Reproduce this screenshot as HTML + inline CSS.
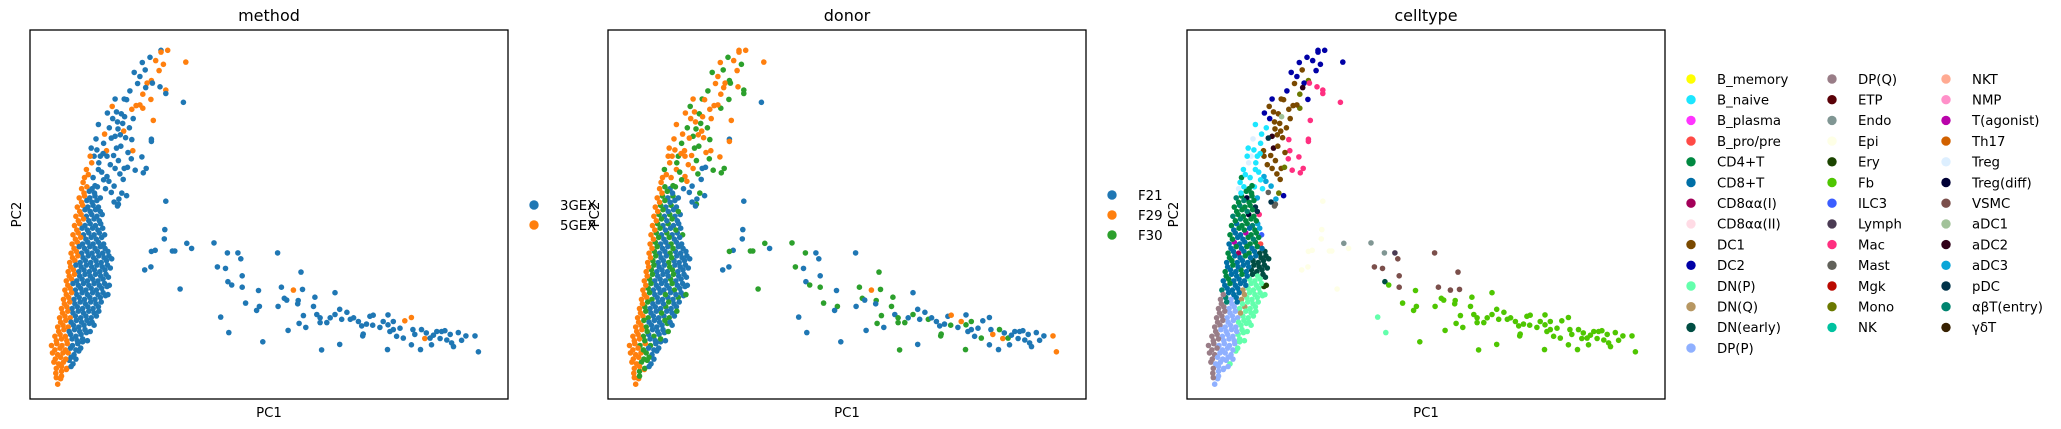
<!DOCTYPE html>
<html><head><meta charset="utf-8">
<style>
html,body{margin:0;padding:0;background:#fff;}
svg{display:block;font-family:"DejaVu Sans","Liberation Sans",sans-serif;}
</style></head>
<body>
<svg id="fig" width="2061" height="429" viewBox="0 0 2061 429" xmlns="http://www.w3.org/2000/svg"></svg>
<script>
// ---- data ----
const methodCats = ["3GEX","5GEX"];
const methodColors = ["#1f77b4","#ff7f0e"];
const donorCats = ["F21","F29","F30"];
const donorColors = ["#1f77b4","#ff7f0e","#2ca02c"];
const celltypeCats = ["B_memory","B_naive","B_plasma","B_pro/pre","CD4+T","CD8+T","CD8αα(I)","CD8αα(II)","DC1","DC2","DN(P)","DN(Q)","DN(early)","DP(P)","DP(Q)","ETP","Endo","Epi","Ery","Fb","ILC3","Lymph","Mac","Mast","Mgk","Mono","NK","NKT","NMP","T(agonist)","Th17","Treg","Treg(diff)","VSMC","aDC1","aDC2","aDC3","pDC","αβT(entry)","γδT"];
const celltypeColors = ["#FFFF00","#1CE6FF","#FF34FF","#FF4A46","#008941","#006FA6","#A30059","#FFDBE5","#7A4900","#0000A6","#63FFAC","#B79762","#004D43","#8FB0FF","#997D87","#5A0007","#809693","#FEFFE6","#1B4400","#4FC601","#3B5DFF","#4A3B53","#FF2F80","#61615A","#BA0900","#6B7900","#00C2A0","#FFAA92","#FF90C9","#B903AA","#D16100","#DDEFFF","#000035","#7B4F4B","#A1C299","#300018","#0AA6D8","#013349","#00846F","#372101"];
// cells: [PC1, PC2, methodIdx, donorIdx, celltypeIdx] (PC units 0-100)
const coreCells = [
[5.8,4,1,1,13],[6.4,5.5,1,1,13],[5.4,7,1,1,14],[6.6,7.5,1,2,13],[7.6,8,1,1,13],
[5,10,1,1,14],[6,9.5,1,1,13],[7,10,1,2,13],[8.2,10.5,0,2,13],[9,9.5,0,0,10],
[4.7,12.5,1,1,14],[5.8,12,1,1,14],[6.9,12.5,1,1,13],[8,12.5,1,2,13],[9.2,12,0,0,13],[10.2,13,0,0,10],
[4.5,14.5,1,1,14],[5.6,15,1,1,14],[6.7,14.5,1,2,13],[7.8,15,1,1,13],[8.9,14.5,0,2,13],[10,15,0,0,13],[11,15.5,0,0,10],
[5.2,17,1,1,14],[6.3,17.5,1,1,14],[7.4,17,1,2,13],[8.5,17.5,0,0,13],[9.6,17,0,2,13],[10.7,17.5,0,0,10],[11.8,18,0,0,10],
[5.8,19.5,1,1,14],[6.9,20,1,1,14],[8,19.5,1,2,13],[9.1,20,0,0,13],[10.2,19.5,0,0,13],[11.3,20,0,0,10],[12.4,20.5,0,2,10],[13.4,20,0,0,10],
[6.2,22,1,1,14],[7.3,22.5,1,1,14],[8.4,22,1,2,13],[9.5,22.5,0,0,13],[10.6,22,0,0,13],[11.7,22.5,0,0,10],[12.8,22,0,2,10],[13.9,22.5,0,0,10],
[6.6,24.5,1,1,14],[7.7,25,1,2,14],[8.8,24.5,0,0,13],[9.9,25,0,0,13],[11,24.5,0,0,10],[12.1,25,0,2,11],[13.2,24.5,0,0,10],[14.3,25,0,0,10],
[7,27,1,1,14],[8.1,27.5,1,1,38],[9.2,27,0,2,13],[10.3,27.5,0,0,5],[11.4,27,0,0,11],[12.5,27.5,0,0,10],[13.6,27,0,0,10],[14.7,27.5,0,2,10],[15.8,28,0,0,10],
[7.3,29.5,1,1,38],[8.4,30,1,2,5],[9.5,29.5,0,0,5],[10.6,30,0,0,5],[11.7,29.5,0,0,11],[12.8,30,0,0,10],[13.9,29.5,0,2,10],[15,30,0,0,10],[16.1,30.5,0,0,18],
[7.6,32,1,1,5],[8.7,32.5,1,2,4],[9.8,32,0,0,5],[10.9,32.5,0,0,5],[12,32,0,0,5],[13.1,32.5,0,2,10],[14.2,32,0,0,10],[15.3,32.5,0,0,10],[16.4,33,0,0,12],
[8,34.5,1,1,4],[9.1,35,1,2,5],[10.2,34.5,0,0,5],[11.3,35,0,0,4],[12.4,34.5,0,0,5],[13.5,35,0,2,12],[14.6,34.5,0,0,12],[15.7,35,0,0,12],[16.8,35.5,0,0,12],
[8.3,37,1,1,5],[9.4,37.5,1,2,4],[10.5,37,0,0,5],[11.6,37.5,0,0,5],[12.7,37,0,2,5],[13.8,37.5,0,0,12],[14.9,37,0,0,12],[16,37.5,0,0,12],[17.1,38,0,0,12],
[8.6,39.5,1,1,4],[9.7,40,1,2,5],[10.8,39.5,0,0,6],[11.9,40,0,0,5],[13,39.5,0,2,4],[14.1,40,0,0,5],[15.2,39.5,0,0,12],[16.3,40,0,0,12],
[8.8,42,1,1,5],[9.9,42.5,1,2,29],[11,42,0,0,5],[12.1,42.5,0,0,5],[13.2,42,0,2,4],[14.3,42.5,0,0,4],[15.4,42,0,0,3],
[9,44.5,1,1,4],[10.1,45,1,2,5],[11.2,44.5,0,0,5],[12.3,45,0,2,29],[13.4,44.5,0,0,4],[14.5,45,0,0,4],[15.6,44.5,0,2,20],
[9.3,47,1,1,4],[10.4,47.5,1,2,5],[11.5,47,0,0,4],[12.6,47.5,0,2,4],[13.7,47,0,0,38],[14.8,47.5,0,0,36],
[9.6,49.5,1,1,38],[10.7,50,1,2,4],[11.8,49.5,0,0,4],[12.9,50,0,2,32],[14,49.5,0,0,4],[15.1,50,0,0,22],
[9.9,52,1,1,4],[11,52.5,1,2,38],[12.1,52,0,0,4],[13.2,52.5,0,2,4],[14.3,52,0,0,37],
[10.3,54.5,1,1,38],[11.4,55,1,2,4],[12.5,54.5,0,0,32],[13.6,55,0,2,4],[14.7,54.5,0,0,36],
[10.8,57,1,1,31],[11.9,57.5,1,2,1],[13,57,0,0,4],[14.1,57.5,0,2,1]
];
const coreFillCells = [
[5.5,5.8,1,1,14],[6.6,6.2,1,2,13],
[5.5,8.3,1,1,14],[6.6,8.8,1,1,13],[7.7,8.3,1,2,13],[8.6,8.8,0,0,13],
[5.3,10.8,1,1,14],[6.4,11.3,1,1,13],[7.5,10.8,1,2,13],[8.6,11.3,0,2,13],[9.6,10.8,0,0,13],
[5.2,13.3,1,1,14],[6.3,13.8,1,1,14],[7.4,13.3,1,2,13],[8.5,13.8,0,0,13],[9.6,13.3,0,0,13],[10.6,13.8,0,0,10],
[5.5,15.8,1,1,14],[6.6,16.3,1,1,14],[7.7,15.8,1,2,13],[8.8,16.3,0,0,13],[9.9,15.8,0,0,13],[11,16.3,0,2,10],[12,15.8,0,0,10],
[6,18.3,1,1,14],[7.1,18.8,1,1,13],[8.2,18.3,0,2,13],[9.3,18.8,0,0,13],[10.4,18.3,0,0,13],[11.5,18.8,0,0,10],[12.6,18.3,0,2,10],
[6.4,20.8,1,1,14],[7.5,21.3,1,2,14],[8.6,20.8,0,0,13],[9.7,21.3,0,0,13],[10.8,20.8,0,0,10],[11.9,21.3,0,2,10],[13,20.8,0,0,10],
[6.8,23.3,1,1,14],[7.9,23.8,1,2,14],[9,23.3,0,0,13],[10.1,23.8,0,0,13],[11.2,23.3,0,2,11],[12.3,23.8,0,0,10],[13.4,23.3,0,0,10],[14.4,23.8,0,2,10],
[7.2,25.8,1,1,14],[8.3,26.3,1,2,38],[9.4,25.8,0,0,13],[10.5,26.3,0,0,5],[11.6,25.8,0,0,10],[12.7,26.3,0,2,10],[13.8,25.8,0,0,10],[14.9,26.3,0,0,10],
[7.6,28.3,1,1,14],[8.7,28.8,1,2,5],[9.8,28.3,0,0,5],[10.9,28.8,0,0,5],[12,28.3,0,2,11],[13.1,28.8,0,0,10],[14.2,28.3,0,0,10],[15.3,28.8,0,0,10],[16.3,28.3,0,2,10],
[7.9,30.8,1,1,5],[9,31.3,0,2,4],[10.1,30.8,0,0,5],[11.2,31.3,0,0,5],[12.3,30.8,0,0,5],[13.4,31.3,0,2,10],[14.5,30.8,0,0,10],[15.6,31.3,0,0,10],[16.6,30.8,0,0,18],
[8.2,33.3,1,1,4],[9.3,33.8,1,2,5],[10.4,33.3,0,0,5],[11.5,33.8,0,0,4],[12.6,33.3,0,0,5],[13.7,33.8,0,2,12],[14.8,33.3,0,0,10],[15.9,33.8,0,0,12],
[8.5,35.8,1,1,5],[9.6,36.3,0,2,4],[10.7,35.8,0,0,5],[11.8,36.3,0,0,5],[12.9,35.8,0,2,5],[14,36.3,0,0,12],[15.1,35.8,0,0,12],[16.2,36.3,0,0,12],
[8.9,38.3,1,1,4],[10,38.8,1,2,5],[11.1,38.3,0,0,5],[12.2,38.8,0,0,4],[13.3,38.3,0,2,5],[14.4,38.8,0,0,5],[15.5,38.3,0,0,12],[16.5,38.8,0,0,12],
[9.2,40.8,1,1,5],[10.3,41.3,0,2,4],[11.4,40.8,0,0,5],[12.5,41.3,0,0,4],[13.6,40.8,0,2,5],[14.7,41.3,0,0,4],[15.7,40.8,0,0,5],
[9.5,43.3,1,1,4],[10.6,43.8,1,2,5],[11.7,43.3,0,0,5],[12.8,43.8,0,2,4],[13.9,43.3,0,0,38],[15,43.8,0,0,4],
[9.8,45.8,1,1,5],[10.9,46.3,0,2,4],[12,45.8,0,0,4],[13.1,46.3,0,0,5],[14.2,45.8,0,2,4],[15.2,46.3,0,0,36],
[10.1,48.3,1,1,4],[11.2,48.8,1,2,38],[12.3,48.3,0,0,4],[13.4,48.8,0,2,4],[14.5,48.3,0,0,4],
[10.4,50.8,1,1,4],[11.5,51.3,0,2,4],[12.6,50.8,0,0,38],[13.7,51.3,0,0,4],[14.7,50.8,0,2,37],
[10.8,53.3,1,1,4],[11.9,53.8,0,2,38],[13,53.3,0,0,4],[14,53.8,0,0,4],
[11.3,55.8,1,1,1],[12.4,56.3,0,2,4],[13.5,55.8,0,0,4]
];
const armCells = [
[27.4,94.5,0,1,9],[25.1,92.6,0,2,9],[23.5,91.2,0,1,9],[26.3,91.7,1,1,9],[27.9,90.7,1,2,9],[27.4,94,1,1,9],[28.8,94.5,1,1,9],[32.6,91.3,1,1,9],
[24.1,89.2,0,2,8],[27,89,1,1,9],[23,87.4,0,1,9],[25.4,86.3,1,2,25],[24.5,85.6,1,1,9],[25.6,85.6,0,2,22],[24.2,84.4,0,1,35],[27.2,84.6,0,1,22],
[28.4,83.7,1,2,22],[23.6,82.6,1,1,25],[25.3,81.2,1,2,9],[32.1,80.4,0,0,22],[17.8,81.3,0,1,9],[19.7,81.3,0,2,8],[20.2,81.1,0,1,8],[21.3,78.5,1,1,8],
[23.6,78.8,1,2,25],[23,79.7,1,1,8],[25.8,75.5,1,1,22],[18.1,77.8,0,1,8],[19.1,77.3,0,2,8],[19.8,76.5,0,1,34],[19.4,74.7,0,2,8],[18.3,75.1,0,1,8],
[17.3,76,0,1,9],[14.3,74.4,0,1,1],[18.4,73.2,0,2,8],[19.6,72.6,1,1,8],[18.9,71.6,0,1,8],[17.8,71.2,0,2,35],[17,70.7,0,1,37],[21.3,70.3,0,2,22],
[21.5,67.3,1,1,22],[25.4,70.4,0,0,22],[21.2,65.1,0,2,22],[23.4,65.6,0,1,22],[24.3,62.5,0,2,22],[19.7,62.5,0,0,8],[20.4,62.8,0,0,25],[18.5,64.6,0,2,8],
[17.8,62.5,0,1,8],[16.1,60.3,0,1,36],[15.4,59.4,0,2,1],[14,67.5,0,1,1],[12.8,68,0,1,1],[15.4,69.3,0,2,1],[16,67.3,1,1,8],[18.1,68,0,2,35],
[16.1,65.8,0,1,8],[13.4,65.8,0,1,31],[14.4,64,0,2,1],[14.3,62.2,0,1,1],[12.6,65.8,1,1,1],[12.9,64,1,1,31],[11.8,62.2,1,2,1],[11.4,60,1,1,4],
[11.1,58.7,1,1,1],[14.7,65.8,0,2,1],[17.6,57.7,0,0,36],[17,56,0,0,23],[18.6,54.2,0,0,36],[18.5,52.8,0,2,23],[17.6,53.4,0,0,37],[20.2,55.1,0,0,9],
[19.2,55.8,0,2,25],[18.3,52.3,0,0,23],[28.4,82.8,0,2,22],[25.4,69.8,0,1,22],[23.7,61.3,0,2,22],
[13.2,60,0,1,1],[15,61.5,0,2,1],[16.8,63.5,0,1,8],[13.8,70.5,0,1,31],[15.6,71.8,1,1,1],[16.6,73.5,0,2,1],[17.5,66,0,1,8],[19,68.5,0,2,8],
[20,70.8,0,1,8],[20.8,73.5,0,2,8],[21.6,76,0,1,8],[22.2,79.5,1,1,8],[20.9,83.5,0,2,9],[22.5,85.5,0,1,8],[21.8,88.5,0,2,9],[16.2,77.5,0,1,9],
[17.2,79.3,1,2,8],[15.3,66.5,0,1,1],[12.2,60.8,1,1,1],[13.6,57.8,0,2,4],[15.8,57,0,0,1],[16.5,59,0,1,36],[19.5,59.5,0,0,8],[22,62,0,2,22],
[20.5,66.8,0,1,8],[18.8,61,0,2,8]
];
const tailCells = [
[28.4,53.6,0,0,17],[28.2,45.9,0,0,17],[28.1,43.4,0,0,17],[26.2,40.3,0,0,17],[25.4,40,0,2,17],[24,35,0,0,17],[25.3,35.8,0,0,17],[29.8,40.1,0,2,17],
[30.3,40.1,0,2,17],[32.8,42.2,0,2,16],[33.8,40.8,0,0,17],[31.4,29.8,0,2,17],[38.5,42.3,0,2,16],[41.3,39.6,0,2,16],[43.5,39.6,0,0,21],[44.1,38,0,0,33],
[39.2,35.8,0,2,33],[40.9,35.4,0,0,33],[44.4,33.4,0,0,33],[41.4,31.8,0,0,12],[42.2,30.9,0,2,19],[44.4,30.3,0,2,33],[45.1,26,0,2,19],[39.9,22.2,0,0,10],
[41.6,18,0,0,10],[47.8,29.4,0,0,19],[48,25.1,0,2,19],[47.4,24,0,0,19],[48.7,15.5,0,0,19],[51.8,39.6,0,0,33],[52.6,30.3,0,2,33],[55.1,29.5,1,1,33],
[57,29.7,0,2,33],[56.7,34.4,0,2,33],[53.2,27.3,0,2,19],[53.7,26.8,0,0,19],[51.9,25.1,0,0,19],[54,18.6,0,0,19],[56.1,26.7,0,2,19],[56,25.8,0,0,19],
[56.3,20.5,0,2,19],[57.2,22.6,0,2,19],[57.7,19.4,0,0,19],[59.6,27.6,0,2,19],[59.3,25.1,0,2,19],[60,22.9,0,0,19],[60.7,22,0,2,19],[61,13.3,0,2,19],
[62.1,20.7,0,2,19],[62.8,22,0,0,19],[63.8,28.8,0,0,19],[63.8,22.9,0,2,19],[64.8,24.3,0,0,19],[65.2,21.6,0,0,19],[64.8,14.8,0,0,19],[66.3,23.5,0,0,19],
[67,21.6,0,2,19],[68.7,21,0,0,19],[69.4,19.8,0,0,19],[69.6,17.1,0,2,19],[70.4,20.3,0,0,19],[71.1,22.4,0,0,19],[71.8,22.7,0,1,19],[71.7,20,0,2,19],
[73.2,19.4,0,0,19],[73.9,21,0,1,19],[74.9,22.8,0,0,19],[74.9,20.1,0,2,19],[75.3,18.3,0,0,19],[74.8,13.4,0,2,19],[76,18.8,0,0,19],[76.7,17,0,0,19],
[77.4,19.2,0,0,19],[78.1,16.5,0,2,19],[78.4,21.2,1,0,19],[79.8,22.1,1,0,19],[79.8,14.7,0,0,19],[80.1,18.8,0,0,19],[80.5,17.5,0,1,19],[81.7,13.4,0,0,19],
[81.9,18.8,0,2,19],[82.6,16.4,1,1,19],[82.9,17.9,0,0,19],[83.7,16.5,0,2,19],[84,14.7,0,0,19],[84.4,17.3,0,0,19],[85.1,18.3,0,0,19],[85.8,16.4,0,0,19],
[86.1,18.3,0,0,19],[86.8,18.5,0,0,19],[87.2,16,0,0,19],[87.9,17.5,0,0,19],[88.2,15.2,0,0,19],[88.6,14.2,0,0,19],[89.6,18,0,0,19],[90.3,15.9,0,0,19],
[91.2,17.1,0,0,19],[93.1,17.1,0,1,19],[93.8,12.8,0,1,19],[69.7,17.6,0,2,19],[76,21,0,2,19],[67.7,22,0,0,19],[60.7,20.7,0,2,19]
];
// ---- layout ----
const NS = "http://www.w3.org/2000/svg";
const svg = document.getElementById("fig");
const panelW = 478, panelH = 369, panelTop = 30;
const panelLefts = [30, 608, 1187];
const allCells = coreCells.concat(coreFillCells).concat(armCells).concat(tailCells);
function mk(tag, attrs, parent){const e=document.createElementNS(NS,tag);for(const k in attrs)e.setAttribute(k,attrs[k]);(parent||svg).appendChild(e);return e;}
function xScale(p, v){return panelLefts[p] + v/100*panelW;}
function yScale(v){return panelTop + panelH - v/100*panelH;}

const panels = [
 {title:"method", key:2, cats:methodCats, colors:methodColors, name:"method"},
 {title:"donor", key:3, cats:donorCats, colors:donorColors, name:"donor"},
 {title:"celltype", key:4, cats:celltypeCats, colors:celltypeColors, name:"celltype"}
];
const ctColStarts = [0, 14, 27];
panels.forEach((pn, p) => {
  const g = mk("g", {});
  
  
  const L = panelLefts[p];
  const t = mk("text", {x:L+panelW/2, y:21, "text-anchor":"middle", "font-size":16, fill:"#000"}, g);
  t.textContent = pn.title;
  
  
  const pts = mk("g", {}, g);
  
  
  allCells.forEach(c => {
    const dot = mk("circle", {cx:xScale(p,c[0]).toFixed(1), cy:yScale(c[1]).toFixed(1), r:2.8, fill:pn.colors[c[pn.key]]}, pts);
    
    
  });
  const frame = mk("rect", {x:L, y:panelTop, width:panelW, height:panelH, fill:"none", stroke:"#000", "stroke-width":1.3}, g);
  
  
  const xl = mk("text", {x:L+panelW/2, y:417, "text-anchor":"middle", "font-size":13.3, fill:"#000"}, g);
  xl.textContent = "PC1";
  
  
  const yl = mk("text", {x:0, y:0, "text-anchor":"middle", "font-size":13.3, fill:"#000", transform:"translate("+(L-9)+","+(panelTop+panelH/2)+") rotate(-90)"}, g);
  yl.textContent = "PC2";
  
  
  // legend
  const lg = mk("g", {}, g);
  
  
  const n = pn.cats.length;
  const rowH = p === 2 ? 20.7 : 20;
  const y0 = p === 2 ? 79 : 215 - (n-1)*rowH/2;
  const colX = [0, 141, 255];
  pn.cats.forEach((cat, i) => {
    let col = 0;
    if (p === 2) { col = i >= ctColStarts[2] ? 2 : (i >= ctColStarts[1] ? 1 : 0); }
    const row = p === 2 ? i - ctColStarts[col] : i;
    const mx = L + panelW + 26 + colX[col], my = y0 + row*rowH;
    const m = mk("circle", {cx:mx, cy:my, r:4.7, fill:pn.colors[i]}, lg);
    
    
    const tx = mk("text", {x:mx+26, y:my+4.8, "font-size":13.3, fill:"#000"}, lg);
    tx.textContent = cat;
    
    
  });
});
</script>
</body></html>
